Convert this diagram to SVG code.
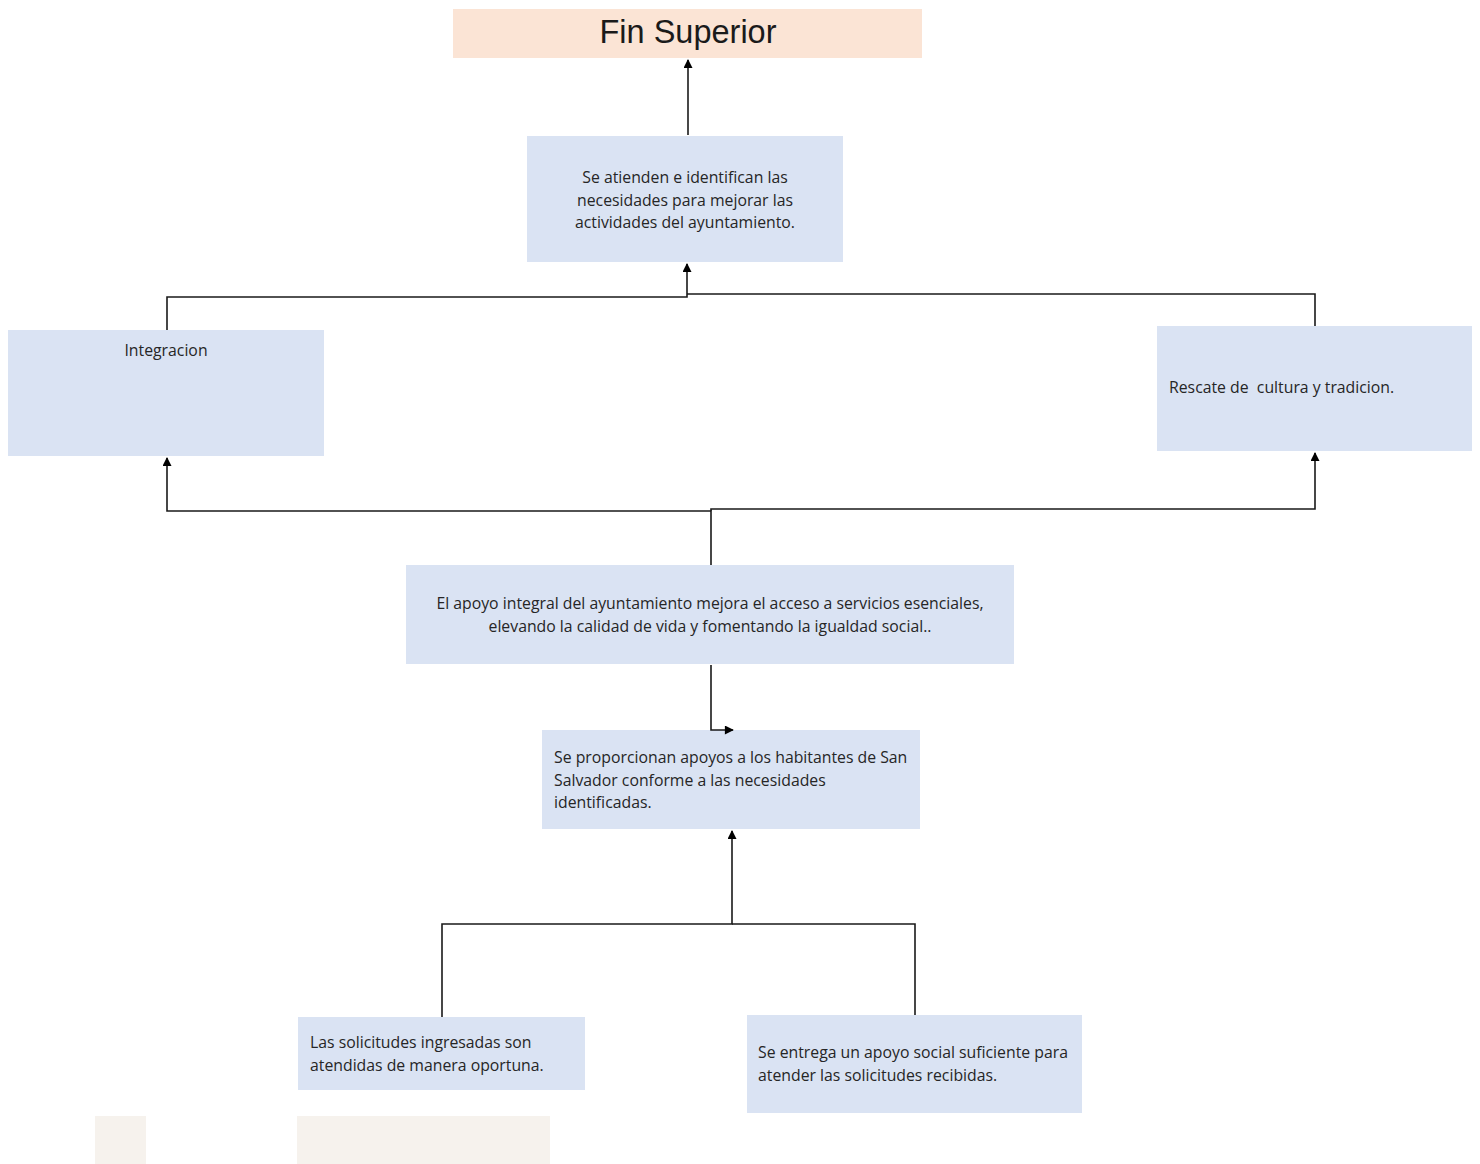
<svg xmlns="http://www.w3.org/2000/svg" width="1480" height="1164" viewBox="0 0 1480 1164">
<style>
.box{fill:#dae3f3}
.t{font-family:"Open Sans","Liberation Sans",sans-serif;font-size:15.8px;fill:#262626}
.c{text-anchor:middle}
.ln{fill:none;stroke:#1a1a1a;stroke-width:1.6}
</style>
<defs>
<marker id="ah" viewBox="0 0 10 10" refX="9" refY="5" markerWidth="10" markerHeight="9" markerUnits="userSpaceOnUse" orient="auto">
<path d="M0,0 L10,5 L0,10 z" fill="#000"/>
</marker>
</defs>
<rect width="1480" height="1164" fill="#fff"/>
<g id="fin">
<rect x="453" y="9" width="469" height="49" fill="#fbe4d5"/>
<text x="688" y="43" text-anchor="middle" font-family="Liberation Sans, Arial, sans-serif" font-size="32.5" fill="#1a1a1a">Fin Superior</text>
</g>
<g id="n-proposito">
<rect class="box" x="527" y="136" width="316" height="126"/>
<text class="t c" x="685" y="183">Se atienden e identifican las</text>
<text class="t c" x="685" y="206">necesidades para mejorar las</text>
<text class="t c" x="685" y="228">actividades del ayuntamiento.</text>
</g>
<g id="n-integracion">
<rect class="box" x="8" y="330" width="316" height="126"/>
<text class="t c" x="166" y="356">Integracion</text>
</g>
<g id="n-rescate">
<rect class="box" x="1157" y="326" width="315" height="125"/>
<text class="t" x="1169" y="393" xml:space="preserve">Rescate de  cultura y tradicion.</text>
</g>
<g id="n-apoyo">
<rect class="box" x="406" y="565" width="608" height="99"/>
<text class="t c" x="710" y="609">El apoyo integral del ayuntamiento mejora el acceso a servicios esenciales,</text>
<text class="t c" x="710" y="632">elevando la calidad de vida y fomentando la igualdad social..</text>
</g>
<g id="n-proporcionan">
<rect class="box" x="542" y="730" width="378" height="99"/>
<text class="t" x="554" y="763">Se proporcionan apoyos a los habitantes de San</text>
<text class="t" x="554" y="786">Salvador conforme a las necesidades</text>
<text class="t" x="554" y="808">identificadas.</text>
</g>
<g id="n-solicitudes">
<rect class="box" x="298" y="1017" width="287" height="73"/>
<text class="t" x="310" y="1048">Las solicitudes ingresadas son</text>
<text class="t" x="310" y="1071">atendidas de manera oportuna.</text>
</g>
<g id="n-entrega">
<rect class="box" x="747" y="1015" width="335" height="98"/>
<text class="t" x="758" y="1058">Se entrega un apoyo social suficiente para</text>
<text class="t" x="758" y="1081">atender las solicitudes recibidas.</text>
</g>
<g id="blank-1"><rect x="95" y="1116" width="51" height="48" fill="#f6f2ed"/></g>
<g id="blank-2"><rect x="297" y="1116" width="253" height="48" fill="#f6f2ed"/></g>
<g id="connectors">
<path class="ln" d="M688,135 L688,60" marker-end="url(#ah)"/>
<path class="ln" d="M167,330 L167,297 L687,297 L687,264" marker-end="url(#ah)"/>
<path class="ln" d="M1315,326 L1315,294 L687,294"/>
<path class="ln" d="M711,565 L711,511 L167,511 L167,458" marker-end="url(#ah)"/>
<path class="ln" d="M711,511 L711,509 L1315,509 L1315,453" marker-end="url(#ah)"/>
<path class="ln" d="M711,665 L711,730 L733,730" marker-end="url(#ah)"/>
<path class="ln" d="M442,1017 L442,924 L732,924 L732,831" marker-end="url(#ah)"/>
<path class="ln" d="M915,1015 L915,924 L732,924"/>
</g>
</svg>
